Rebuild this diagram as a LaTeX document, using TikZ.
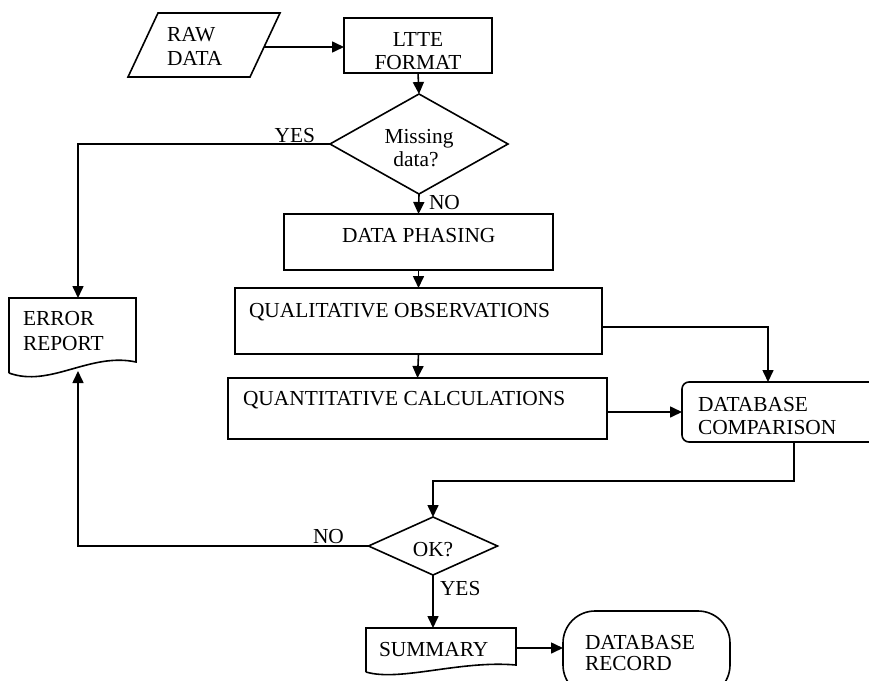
\documentclass[tikz,border=0pt]{standalone}
\usepackage{fontspec}
\setmainfont{Liberation Serif}
\usetikzlibrary{arrows.meta,shapes.geometric,calc}
\begin{document}
\begin{tikzpicture}[x=1pt,y=-1pt,line width=1.6pt,
  every node/.style={font=\fontsize{21.4}{24}\selectfont,inner sep=0pt,outer sep=0pt},
  txt/.style={anchor=base west},
  ctxt/.style={anchor=base},
  box/.style={draw,rectangle},
  ghost/.style={draw=none,rectangle},
  dia/.style={draw,diamond,aspect=1.8},
  arr/.style={-{Triangle[length=12pt,width=11pt]}}]
\useasboundingbox (0,0) rectangle (869,680);
\fill[white] (0,0) rectangle (869,680);
\clip (0,0) rectangle (869,680);

% RAW DATA (parallelogram)
\draw (158,13) -- (280,13) -- (250,77) -- (128,77) -- cycle;
\node[ghost,minimum width=120,minimum height=64] (raw) at (204,45) {};
\coordinate (rawR) at (264,47);
\node[txt] (rawt1) at (167,41) {RAW};
\node[txt] (rawt2) at (167,65) {DATA};

% LTTE FORMAT
\node[box,minimum width=148,minimum height=55] (ltte) at (418,45.5) {};
\node[ctxt] (lttet1) at (418,46) {LTTE};
\node[ctxt] (lttet2) at (418,69) {FORMAT};

% Missing data? diamond
\node[dia,minimum width=178,minimum height=100] (miss) at (419,144) {};
\node[ctxt] (misst1) at (419,143) {Missing};
\node[ctxt] (misst2) at (416,166) {data?};

% DATA PHASING
\node[box,minimum width=269,minimum height=56] (phase) at (418.5,242) {};
\node[txt] (phaset) at (342,242) {DATA PHASING};

% QUALITATIVE OBSERVATIONS
\node[box,minimum width=367,minimum height=66] (qual) at (418.5,321) {};
\node[txt] (qualt) at (249,317) {QUALITATIVE OBSERVATIONS};

% QUANTITATIVE CALCULATIONS
\node[box,minimum width=379,minimum height=61] (quant) at (417.5,408.5) {};
\node[txt] (quantt) at (243,405) {QUANTITATIVE CALCULATIONS};

% DATABASE COMPARISON
\node[draw,rectangle,rounded corners=7pt,minimum width=210,minimum height=60] (dbc) at (787,412) {};
\node[txt] (dbct1) at (698,411) {DATABASE};
\node[txt] (dbct2) at (698,434) {COMPARISON};
\coordinate (dbcTop) at (768,382);
\coordinate (dbcBot) at (794,442);

% ERROR REPORT (document)
\draw (9,373) -- (9,298) -- (136,298) -- (136,362)
      .. controls (90,352) and (50,388) .. (9,373);
\node[ghost,minimum width=127,minimum height=75] (err) at (72.5,335.5) {};
\coordinate (errTop) at (78,298);
\coordinate (errBot) at (78,371);
\node[txt] (errt1) at (23,325) {ERROR};
\node[txt] (errt2) at (23,350) {REPORT};

% OK? diamond
\node[dia,minimum width=129,minimum height=58] (ok) at (433,546) {};
\node[ctxt] (okt) at (433,556) {OK?};
\coordinate (turn) at (433,481);

% SUMMARY (document)
\draw (366,672) -- (366,628) -- (516,628) -- (516,665)
      .. controls (460,660) and (400,682) .. (366,672);
\node[ghost,minimum width=150,minimum height=40] (sum) at (441,648) {};
\coordinate (sumTop) at (433,628);
\node[txt] (sumt) at (379,656) {SUMMARY};

% DATABASE RECORD (terminal)
\node[draw,rectangle,rounded corners=32pt,minimum width=167,minimum height=86] (dbr) at (646.5,654) {};
\node[txt] (dbrt1) at (585,649) {DATABASE};
\node[txt] (dbrt2) at (585,670) {RECORD};

% labels
\node[anchor=base east] (yes1) at (315,142) {YES};
\node[txt] (no1) at (429,209) {NO};
\node[txt] (no2) at (313,543) {NO};
\node[txt] (yes2) at (440,595) {YES};

% connectors
\draw[arr] (rawR) -- (rawR -| ltte.west);
\draw[arr] (ltte.south) -- (miss.north);
\draw[arr] (miss.west) -| (errTop);
\draw[arr] (miss.south) -- (phase.north);
\draw[arr] (phase.south) -- (qual.north);
\draw[arr] (qual.south) -- (quant.north);
\draw[arr] ($(qual.east)+(0,6)$) -| (dbcTop);
\draw[arr] (quant.east |- dbc.west) -- (dbc.west);
\draw[arr] (dbcBot) |- (turn) -- (ok.north);
\draw[arr] (ok.west) -| (errBot);
\draw[arr] (ok.south) -- (sumTop);
\draw[arr] (sum.east) -- (sum.east -| dbr.west);
\end{tikzpicture}
\end{document}
